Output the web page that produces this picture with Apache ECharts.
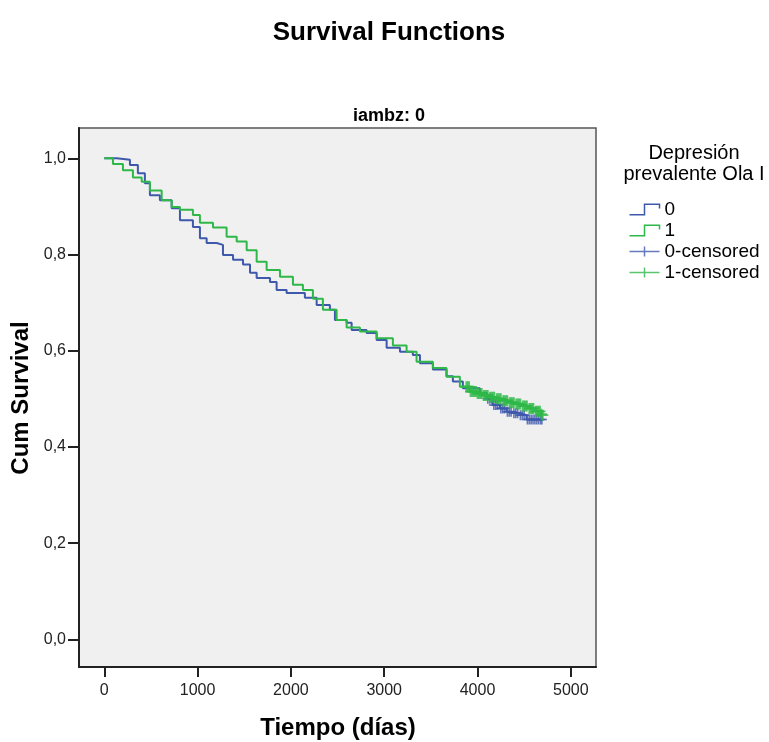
<!DOCTYPE html>
<html><head><meta charset="utf-8">
<script src="https://cdn.jsdelivr.net/npm/echarts@6/dist/echarts.min.js"></script>
<style>html,body{margin:0;padding:0;background:#fff}#c{width:769px;height:742px}</style>
</head><body><div id="c"></div>
<script>
// Kaplan-Meier survival estimates: [time (days), cum survival]
const group0 = [[0,1.0],[133,0.997],[275,0.986],[360,0.969],[435,0.948],[489,0.923],[596,0.913],[722,0.896],[811,0.871],[950,0.857],[1025,0.834],[1097,0.824],[1204,0.820],[1272,0.799],[1380,0.789],[1487,0.779],[1562,0.762],[1633,0.751],[1776,0.743],[1847,0.726],[1954,0.720],[2150,0.710],[2276,0.695],[2418,0.685],[2472,0.664],[2597,0.658],[2651,0.643],[2811,0.637],[2919,0.622],[3026,0.606],[3169,0.598],[3307,0.591],[3383,0.574],[3522,0.561],[3668,0.547],[3736,0.536],[3843,0.522],[4025,0.512],[4100,0.500],[4164,0.487],[4240,0.480],[4311,0.473],[4380,0.470],[4454,0.466],[4525,0.457],[4690,0.457]];
const group1 = [[0,1.0],[93,0.988],[200,0.975],[307,0.960],[401,0.951],[489,0.933],[615,0.913],[722,0.899],[811,0.893],[950,0.882],[1025,0.866],[1165,0.856],[1311,0.837],[1419,0.827],[1526,0.809],[1633,0.785],[1740,0.768],[1883,0.754],[2022,0.737],[2129,0.726],[2236,0.708],[2343,0.685],[2490,0.664],[2597,0.648],[2740,0.640],[2919,0.626],[3093,0.611],[3240,0.598],[3347,0.577],[3522,0.564],[3668,0.546],[3811,0.525],[3918,0.515],[3990,0.511],[4060,0.507],[4130,0.503],[4200,0.500],[4270,0.496],[4340,0.492],[4410,0.489],[4480,0.485],[4550,0.480],[4620,0.474],[4680,0.468],[4700,0.466]];
const censored0 = [[4110,0.500],[4130,0.500],[4150,0.500],[4175,0.487],[4195,0.487],[4215,0.487],[4250,0.480],[4270,0.480],[4290,0.480],[4320,0.473],[4340,0.473],[4360,0.473],[4390,0.470],[4410,0.470],[4430,0.470],[4460,0.466],[4480,0.466],[4500,0.466],[4535,0.457],[4555,0.457],[4575,0.457],[4595,0.457],[4615,0.457],[4635,0.457],[4655,0.457],[4675,0.457],[4690,0.457]];
const censored1 = [[3880,0.525],[3895,0.525],[3910,0.525],[3925,0.515],[3940,0.515],[3955,0.515],[3970,0.515],[3985,0.515],[4000,0.511],[4015,0.511],[4030,0.511],[4045,0.511],[4065,0.507],[4080,0.507],[4095,0.507],[4110,0.507],[4135,0.503],[4150,0.503],[4165,0.503],[4180,0.503],[4205,0.500],[4220,0.500],[4235,0.500],[4250,0.500],[4275,0.496],[4290,0.496],[4305,0.496],[4320,0.496],[4345,0.492],[4360,0.492],[4375,0.492],[4390,0.492],[4415,0.489],[4430,0.489],[4445,0.489],[4460,0.489],[4485,0.485],[4500,0.485],[4515,0.485],[4530,0.485],[4555,0.480],[4570,0.480],[4585,0.480],[4600,0.480],[4625,0.474],[4640,0.474],[4655,0.474],[4670,0.474],[4685,0.468],[4700,0.466]];
const xTicks = [0,1000,2000,3000,4000,5000];
const yTicks = [0,0.2,0.4,0.6,0.8,1.0];
const seriesNames = ['0','1','0-censored','1-censored'];

const BLUE = '#3e58ac', GREEN = '#2eb848';
const FONT = 'Liberation Sans, Arial, sans-serif';
const stepIcon = 'path://M0,10 L14,10 L14,0 L28,0 L28,4';
const plusIcon = 'path://M0,5 L30,5 M15,0 L15,10';
const plusSym = 'path://M0,5 L10,5 M5,0 L5,10';

function txt(s, x, y, font, rot) {
  return {type:'text', x:x, y:y, rotation:rot||0, z:10,
    style:{text:s, x:0, y:0, align:'center', verticalAlign:'middle', font:font, fill:'#000'}};
}

const chart = echarts.init(document.getElementById('c'), null, {renderer:'canvas'});
chart.setOption({
  animation:false,
  backgroundColor:'#ffffff',
  textStyle:{fontFamily:FONT},
  graphic:[
    txt('Survival Functions', 389, 33, 'bold 26px ' + FONT),
    txt('iambz: 0', 389, 116, 'bold 18px ' + FONT),
    txt('Depresión', 694, 153, '20px ' + FONT),
    txt('prevalente Ola I', 694, 174, '20px ' + FONT),
    txt('Tiempo (días)', 338, 728, 'bold 24px ' + FONT),
    txt('Cum Survival', 21, 398, 'bold 24px ' + FONT, Math.PI/2)
  ],
  grid:{left:79, top:128, width:517, height:539, show:true, backgroundColor:'#f0f0f0',
        borderColor:'#555', borderWidth:1.5, containLabel:false},
  legend:{
    orient:'vertical', left:627, top:200, padding:0, itemWidth:30, itemHeight:12, itemGap:2,
    textStyle:{fontSize:19, color:'#000', fontFamily:FONT, lineHeight:19},
    data:[
      {name:seriesNames[0], icon:stepIcon, itemStyle:{color:'none', borderColor:BLUE, borderWidth:1.5}},
      {name:seriesNames[1], icon:stepIcon, itemStyle:{color:'none', borderColor:GREEN, borderWidth:1.5}},
      {name:seriesNames[2], icon:plusIcon, itemStyle:{color:'none', borderColor:BLUE, borderWidth:1.5}},
      {name:seriesNames[3], icon:plusIcon, itemStyle:{color:'none', borderColor:GREEN, borderWidth:1.5}}
    ]
  },
  xAxis:{
    type:'value', min:-271, max:5270,
    axisLine:{show:true, onZero:false, lineStyle:{color:'#222', width:2}},
    axisTick:{show:true, inside:false, length:10, customValues:xTicks, lineStyle:{color:'#222', width:2}},
    axisLabel:{customValues:xTicks, margin:16, fontSize:16, color:'#222', fontFamily:FONT,
      formatter:v=>String(v)},
    splitLine:{show:false}
  },
  yAxis:{
    type:'value', min:-0.0576, max:1.063,
    axisLine:{show:true, onZero:false, lineStyle:{color:'#222', width:2}},
    axisTick:{show:true, inside:false, length:11, customValues:yTicks, lineStyle:{color:'#222', width:2}},
    axisLabel:{customValues:yTicks, margin:13, fontSize:16, color:'#222', fontFamily:FONT,
      formatter:v=>v.toFixed(1).replace('.',',')},
    splitLine:{show:false}
  },
  series:[
    {name:seriesNames[0], type:'line', step:'end', data:group0, showSymbol:false, symbol:'none',
     lineStyle:{color:BLUE, width:2}, itemStyle:{color:BLUE}, z:2},
    {name:seriesNames[2], type:'scatter', data:censored0, symbol:plusSym, symbolSize:10,
     itemStyle:{color:'none', borderColor:BLUE, borderWidth:1.6}, z:3},
    {name:seriesNames[1], type:'line', step:'end', data:group1, showSymbol:false, symbol:'none',
     lineStyle:{color:GREEN, width:2}, itemStyle:{color:GREEN}, z:4},
    {name:seriesNames[3], type:'scatter', data:censored1, symbol:plusSym, symbolSize:11,
     itemStyle:{color:'none', borderColor:GREEN, borderWidth:1.8}, z:5}
  ]
});
</script></body></html>
